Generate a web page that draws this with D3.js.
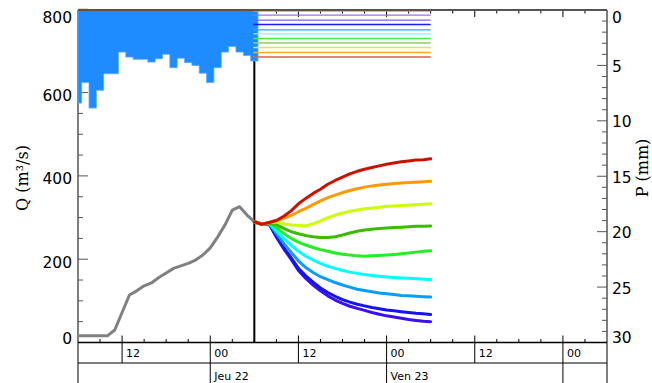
<!DOCTYPE html>
<html>
<head>
<meta charset="utf-8">
<script src="https://cdn.jsdelivr.net/npm/d3@7"></script>
<style>
  body { margin: 0; background: #fff; }
  svg { display: block; }
  text { font-family: "DejaVu Sans", "Liberation Sans", sans-serif; fill: #000; }
  text.title { font-family: "DejaVu Serif", "Liberation Serif", serif; }
</style>
</head>
<body>
<svg id="chart" width="652" height="383"></svg>
<script>
// ---- time frame -------------------------------------------------------
const viewStart = Date.UTC(2018, 2, 21, 6);   // Wed 21 06:00
const viewEnd   = Date.UTC(2018, 2, 24, 6);   // Sat 24 06:00
const runTime   = Date.UTC(2018, 2, 22, 6);   // forecast issued Thu 22 06:00
const fcEnd     = Date.UTC(2018, 2, 23, 6);   // forecast horizon (+24 h)
const HOUR = 3600e3;

// ---- observed hourly rainfall (mm), 21 06:00 .. 22 06:00 ---------------
const obsRain = [8.4, 6.55, 8.85, 7.25, 5.75, 5.75, 3.8, 4.25, 4.45, 4.45, 4.7, 4.4,
                 4.0, 5.2, 4.35, 4.75, 5.0, 5.7, 6.55, 5.2, 3.8, 3.3, 3.8, 4.1, 4.6];

// ---- observed hourly discharge (m3/s), 21 06:00 .. 22 06:00 ------------
const obsFlow = [16, 16, 16, 16, 16, 30, 72, 114, 124, 136, 143, 156, 167,
                 178, 184, 190, 198, 210, 227, 253, 282, 318, 326, 306, 290];

// ---- rainfall scenarios for the next 24 h (mm/h) ----------------------
const rainScenarios = [0.06, 0.42, 0.87, 1.26, 1.75, 2.11, 2.53, 2.93, 3.34, 3.79, 4.19];
const rainColors = ["#c98cff", "#9a6cff", "#7b5cff", "#1a1aff", "#3d9cf0", "#7ff6ff",
                    "#44ee44", "#8acb74", "#dcee30", "#ffaa22", "#e8584a"];

// ---- discharge forecasts (m3/s), hourly 22 06:00 .. 23 06:00 -----------
const fcViolet    = [290, 284, 285, 253, 225, 200, 173, 154, 138, 124, 112, 102, 94,
                     87, 82, 77, 72, 68, 64, 61, 58, 55, 53, 51, 50];
const fcBlue      = [290, 284, 285, 255, 228, 204, 178, 160, 145, 131, 120, 111, 103,
                     97, 92, 88, 84, 81, 78, 76, 74, 72, 70, 69, 67];
const fcAzure     = [290, 284, 286, 262, 238, 217, 196, 180, 168, 158, 151, 144, 138,
                     133, 128, 125, 122, 119, 117, 115, 113, 112, 111, 110, 109];
const fcCyan      = [290, 284, 286, 268, 250, 234, 219, 207, 198, 190, 183, 178, 173,
                     169, 166, 163, 161, 159, 157, 156, 155, 154, 153, 152, 151];
const fcGreen     = [290, 284, 287, 276, 262, 250, 241, 234, 228, 223, 219, 215, 212,
                     210, 208, 207, 208, 209, 210, 211, 213, 215, 217, 219, 220];
const fcDarkGreen = [290, 284, 287, 283, 274, 266, 261, 257, 254, 252, 252, 254, 258,
                     263, 267, 270, 272, 274, 275, 276, 277, 278, 279, 279, 280];
const fcYellow    = [290, 284, 288, 289, 285, 282, 281, 280, 285, 292, 300, 306, 311,
                     315, 318, 321, 323, 325, 327, 328, 329, 330, 331, 332, 333];
const fcOrange    = [290, 284, 288, 293, 298, 305, 314, 322, 331, 340, 348, 354, 360,
                     365, 369, 373, 376, 378, 380, 382, 383, 384, 385, 386, 387];
const fcRed       = [290, 284, 288, 293, 303, 316, 333, 346, 358, 368, 380, 389, 397,
                     405, 411, 416, 420, 424, 428, 431, 434, 436, 438, 439, 441];
const forecasts = [fcViolet, fcBlue, fcAzure, fcCyan, fcGreen, fcDarkGreen, fcYellow, fcOrange, fcRed];
const forecastColors = ["#3a0ff0", "#1414ee", "#0a9cff", "#00ffff", "#22ee22",
                        "#3cbb00", "#ccff00", "#ff9900", "#cc1100"];

// ---- axis labels -------------------------------------------------------
const qTicks = [0, 200, 400, 600, 800];
const pTicks = [0, 5, 10, 15, 20, 25, 30];
const hourLabels = ["12", "00", "12", "00", "12", "00"];
const dayLabels = ["Jeu 22", "Ven 23"];

// ---- layout ------------------------------------------------------------
const L = 78, R = 607, T = 10, B = 342.5, ROW = 363, BOT = 383;

const svg = d3.select("#chart");
const x = d3.scaleUtc().domain([viewStart, viewEnd]).range([L, R]);
const yQ = d3.scaleLinear().domain([0, 800]).range([B, B - 800 * 83.3 / 200]);
const yP = d3.scaleLinear().domain([0, 30]).range([T, B]);

const frameColor = "#555";

// top axis ticks (every 3 h, longer at 00/12)
const tick3h = d3.utcHour.every(3).range(viewStart, viewEnd + 1);
svg.append("g").selectAll("line").data(tick3h.filter(t => t > viewStart && t < viewEnd)).join("line")
  .attr("x1", d => x(d)).attr("x2", d => x(d))
  .attr("y1", T).attr("y2", d => T + (new Date(d).getUTCHours() % 12 === 0 ? 7 : 3.5))
  .attr("stroke", "#000").attr("stroke-width", 1);

// left axis (discharge)
const gQ = svg.append("g");
gQ.append("line").attr("x1", L).attr("x2", L).attr("y1", T).attr("y2", BOT)
  .attr("stroke", frameColor).attr("stroke-width", 1.5);
gQ.selectAll("line.t").data(d3.range(0, 801, 50)).join("line").attr("class", "t")
  .attr("x1", L).attr("x2", d => L + (d % 200 === 0 ? 10 : 5))
  .attr("y1", d => yQ(d)).attr("y2", d => yQ(d))
  .attr("stroke", frameColor).attr("stroke-width", 1);
gQ.selectAll("text").data(qTicks).join("text")
  .attr("x", 72).attr("y", d => Math.max(17, Math.min(338, yQ(d) + 3)))
  .attr("dy", "0.36em").attr("text-anchor", "end")
  .style("font-size", "15.5px").text(d => d);
svg.append("text").attr("class", "title")
  .attr("transform", "translate(28,178) rotate(-90)")
  .attr("text-anchor", "middle").style("font-size", "16px")
  .text("Q (m³/s)");

// right axis (rainfall)
const gP = svg.append("g");
gP.append("line").attr("x1", R).attr("x2", R).attr("y1", T).attr("y2", BOT)
  .attr("stroke", frameColor).attr("stroke-width", 1.5);
gP.selectAll("line.t").data(d3.range(0, 31, 1)).join("line").attr("class", "t")
  .attr("x1", R).attr("x2", d => R - (d % 5 === 0 ? 10 : 5))
  .attr("y1", d => yP(d)).attr("y2", d => yP(d))
  .attr("stroke", frameColor).attr("stroke-width", 1);
gP.selectAll("text").data(pTicks).join("text")
  .attr("x", 612).attr("y", d => Math.max(17, Math.min(337, yP(d) + 1)))
  .attr("dy", "0.36em").attr("text-anchor", "start")
  .style("font-size", "15.5px").text(d => d);
svg.append("text").attr("class", "title")
  .attr("transform", "translate(648,168) rotate(-90)")
  .attr("text-anchor", "middle").style("font-size", "16px")
  .text("P (mm)");

// forecast issue time
svg.append("line").attr("x1", x(runTime)).attr("x2", x(runTime))
  .attr("y1", T).attr("y2", B).attr("stroke", "#000").attr("stroke-width", 2);

// observed rainfall: hanging hyetograph, one step per hour centred on the hour
const rainHours = obsRain.map((v, i) => ({ t: viewStart + i * HOUR, v }));
rainHours.push({ t: runTime + HOUR / 2, v: obsRain[obsRain.length - 1] });
const hyeto = d3.area().curve(d3.curveStep)
  .x(d => x(d.t)).y0(yP(0)).y1(d => yP(d.v));
svg.append("path").datum(rainHours).attr("d", hyeto)
  .attr("fill", "#1e8cff").attr("stroke", "#5aa9ff").attr("stroke-width", 0.8);

// rainfall scenarios
svg.append("g").selectAll("line").data(rainScenarios).join("line")
  .attr("x1", x(runTime) - 1).attr("x2", x(fcEnd))
  .attr("y1", d => yP(d) + 0.5).attr("y2", d => yP(d) + 0.5)
  .attr("stroke", (d, i) => rainColors[i]).attr("stroke-width", 1.4);

// observed discharge
const flowLine = d3.line().x(d => x(d.t)).y(d => yQ(d.v));
svg.append("path")
  .datum(obsFlow.map((v, i) => ({ t: viewStart + i * HOUR, v })))
  .attr("d", flowLine).attr("fill", "none")
  .attr("stroke", "#808080").attr("stroke-width", 3).attr("stroke-linejoin", "round");

// discharge forecasts
svg.append("g").selectAll("path").data(forecasts).join("path")
  .attr("d", s => flowLine(s.map((v, i) => ({ t: runTime + i * HOUR, v }))))
  .attr("fill", "none").attr("stroke", (d, i) => forecastColors[i])
  .attr("stroke-width", 3).attr("stroke-linejoin", "round").attr("stroke-linecap", "round");

// top frame line
svg.append("line").attr("x1", L).attr("x2", R).attr("y1", T).attr("y2", T)
  .attr("stroke", frameColor).attr("stroke-width", 2);

// bottom time axis
const gX = svg.append("g");
gX.append("line").attr("x1", L).attr("x2", R).attr("y1", B).attr("y2", B)
  .attr("stroke", "#000").attr("stroke-width", 1.5);
gX.append("line").attr("x1", L).attr("x2", R).attr("y1", ROW).attr("y2", ROW)
  .attr("stroke", "#000").attr("stroke-width", 1.2);
gX.selectAll("line.t").data(tick3h.filter(t => t > viewStart && t < viewEnd)).join("line").attr("class", "t")
  .attr("x1", d => x(d)).attr("x2", d => x(d))
  .attr("y1", d => { const h = new Date(d).getUTCHours(); return h % 12 === 0 ? B - 7 : B - 3.5; })
  .attr("y2", d => { const h = new Date(d).getUTCHours(); return h === 0 ? BOT : (h === 12 ? ROW : B); })
  .attr("stroke", "#000").attr("stroke-width", 1);
const tick12h = d3.utcHour.every(12).range(viewStart, viewEnd).filter(t => t > viewStart);
gX.selectAll("text.h").data(tick12h).join("text").attr("class", "h")
  .attr("x", d => x(d) + 4).attr("y", 357).style("font-size", "11px")
  .text((d, i) => hourLabels[i]);
const tickDays = d3.utcDay.every(1).range(viewStart, viewEnd).slice(0, dayLabels.length);
gX.selectAll("text.d").data(tickDays).join("text").attr("class", "d")
  .attr("x", d => x(d) + 4).attr("y", 380).style("font-size", "11px")
  .attr("xml:space", "preserve")
  .text((d, i) => dayLabels[i]);
</script>
</body>
</html>
